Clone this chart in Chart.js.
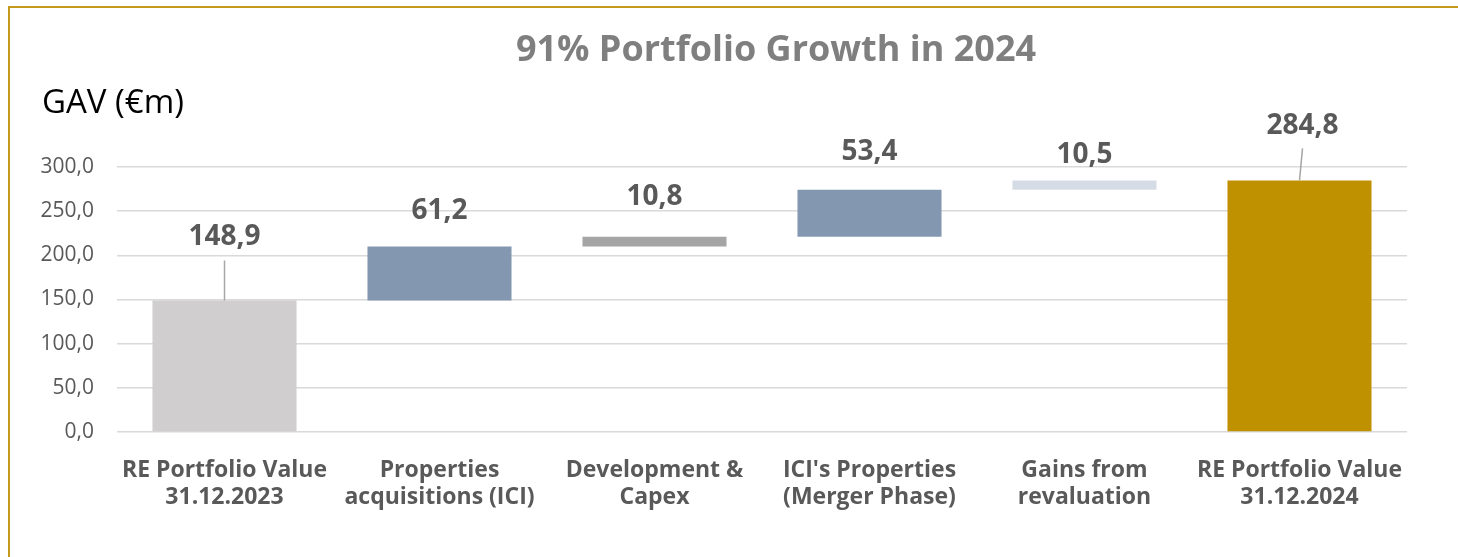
<!DOCTYPE html>
<html>
<head>
<meta charset="utf-8">
<script src="https://cdn.jsdelivr.net/npm/chart.js@4/dist/chart.umd.min.js"></script>
<style>
  html, body { margin: 0; padding: 0; background: #ffffff; }
  #wrap { position: relative; width: 1458px; height: 557px; overflow: hidden; }
  #frame { position: absolute; left: 8px; top: 6px; width: 1600px; height: 700px;
           border-top: 2.5px solid #c49a1c; border-left: 2.5px solid #c49a1c; pointer-events: none; }
  canvas { position: absolute; left: 0; top: 0; }
</style>
</head>
<body>
<div id="wrap">
  <canvas id="c" width="1458" height="557"></canvas>
  <div id="frame"></div>
</div>
<script>
// ---- data ----
const categories = [
  ['RE Portfolio Value', '31.12.2023'],
  ['Properties', 'acquisitions (ICI)'],
  ['Development &', 'Capex'],
  ["ICI's Properties", '(Merger Phase)'],
  ['Gains from', 'revaluation'],
  ['RE Portfolio Value', '31.12.2024']
];
const values = [148.9, 61.2, 10.8, 53.4, 10.5, 284.8];
const barKinds = ['total', 'step', 'step', 'step', 'step', 'total'];
const yTickValues = [0, 50, 100, 150, 200, 250, 300];
const chartTitle = '91% Portfolio Growth in 2024';
const axisTitle = 'GAV (€m)';

// ---- styles ----
const barColors = ['#d0cece', '#8497b0', '#a5a5a5', '#8497b0', '#d6dce5', '#bf9000'];
const labelDy = [-63, -35, -40, -38, -25, -54];
const labelDx = [0, 0, 0, 0, 0, 3];
const leaderTop = [-40, null, null, null, null, -32];

// build floating ranges
let running = 0;
const ranges = values.map((v, i) => {
  if (barKinds[i] === 'total') { running = v; return [0, v]; }
  const s = running; running = +(running + v).toFixed(1); return [s, running];
});
const fmt = v => Number(v).toFixed(1).replace('.', ',');

const overlay = {
  id: 'overlay',
  afterDatasetsDraw(chart) {
    const ctx = chart.ctx;
    const meta = chart.getDatasetMeta(0);
    ctx.save();
    meta.data.forEach((bar, i) => {
      const x = bar.x, y = bar.y;
      if (leaderTop[i] !== null) {
        ctx.strokeStyle = '#a6a6a6';
        ctx.lineWidth = 1.5;
        ctx.beginPath();
        ctx.moveTo(x + labelDx[i], y + leaderTop[i]);
        ctx.lineTo(x, y);
        ctx.stroke();
      }
      ctx.fillStyle = '#595959';
      ctx.font = 'bold 28px "Open Sans"';
      ctx.textAlign = 'center';
      ctx.textBaseline = 'middle';
      ctx.fillText(fmt(values[i]), x + labelDx[i], y + labelDy[i]);
    });
    const ca = chart.chartArea;
    ctx.fillStyle = '#7f7f7f';
    ctx.font = 'bold 36px "Open Sans"';
    ctx.textAlign = 'center';
    ctx.textBaseline = 'middle';
    ctx.fillText(chartTitle, (ca.left + ca.right) / 2 + 14, 51);
    ctx.fillStyle = '#000000';
    ctx.font = '33px "Open Sans"';
    ctx.textAlign = 'left';
    ctx.textBaseline = 'alphabetic';
    ctx.fillText(axisTitle, 42, 113);
    ctx.restore();
  }
};

new Chart(document.getElementById('c'), {
  type: 'bar',
  data: {
    labels: categories,
    datasets: [{
      data: ranges,
      backgroundColor: barColors,
      borderWidth: 0,
      barPercentage: 0.67,
      categoryPercentage: 1.0
    }]
  },
  options: {
    responsive: false,
    animation: false,
    events: [],
    layout: { padding: { left: 0, right: 51, top: 167, bottom: 25 } },
    plugins: { legend: { display: false }, tooltip: { enabled: false }, title: { display: false } },
    scales: {
      x: {
        grid: { display: false },
        border: { display: false },
        ticks: {
          color: '#595959',
          font: { family: 'Open Sans', size: 23, weight: 'bold', lineHeight: 1.18 },
          padding: 17,
          maxRotation: 0,
          autoSkip: false
        },
        afterFit(scale) { scale.height = 100; }
      },
      y: {
        min: 0,
        max: 300,
        afterBuildTicks(scale) { scale.ticks = yTickValues.map(v => ({ value: v })); },
        grid: { color: '#d9d9d9', lineWidth: 1.5, drawTicks: false },
        border: { display: false },
        ticks: {
          color: '#595959',
          font: { family: 'Open Sans', size: 21 },
          padding: 23,
          callback: v => fmt(v)
        },
        afterFit(scale) { scale.width = 117; }
      }
    }
  },
  plugins: [overlay]
});
</script>
</body>
</html>
